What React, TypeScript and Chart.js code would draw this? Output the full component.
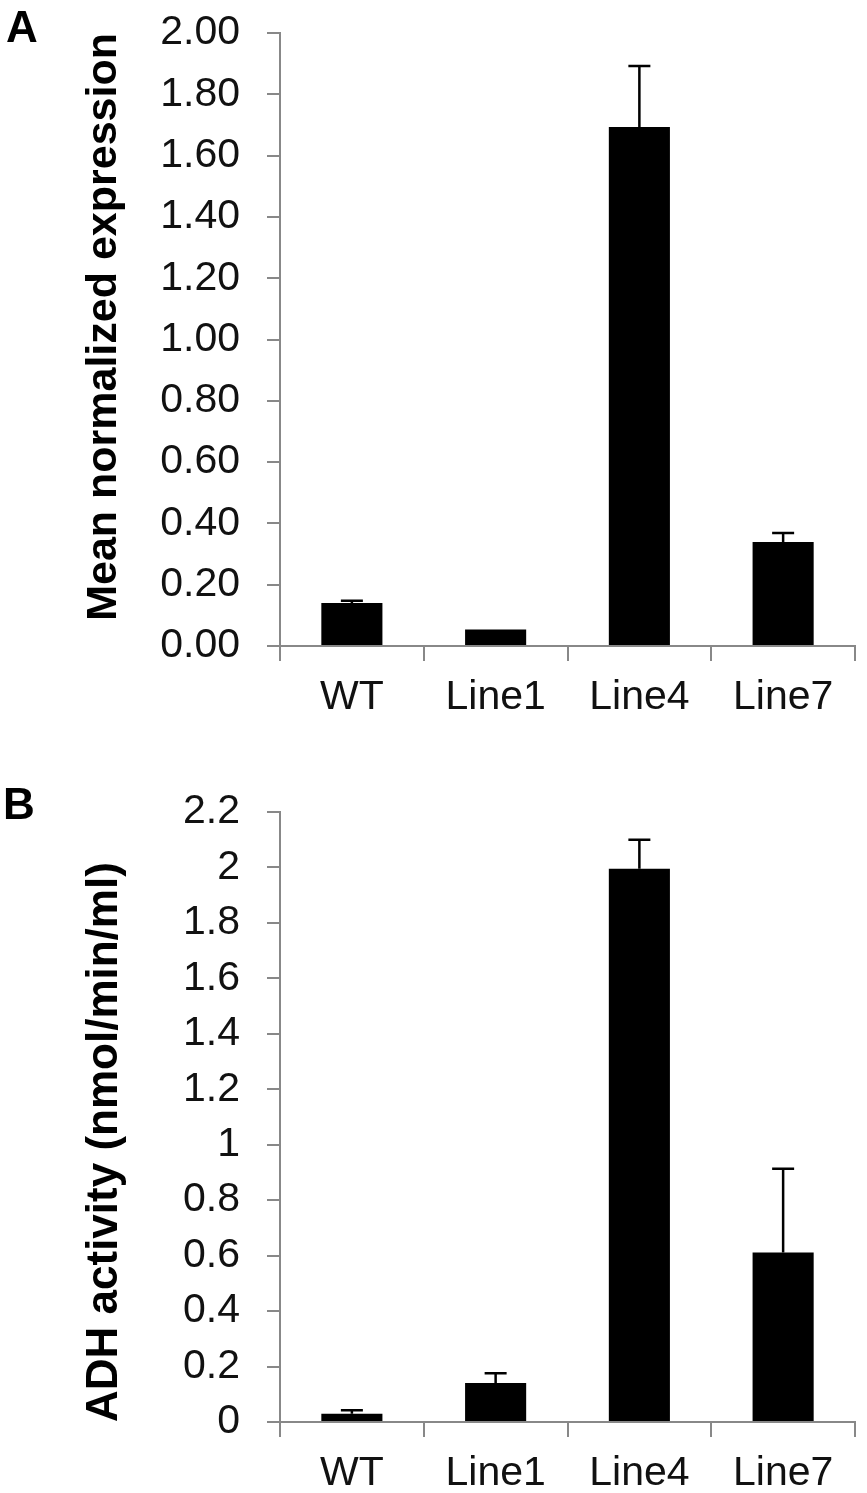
import React, { useEffect, useRef } from "react";
import { Chart, registerables } from "chart.js";

Chart.register(...registerables);

const categories = ["WT", "Line1", "Line4", "Line7"];

const expressionValues = [0.14, 0.054, 1.693, 0.339];
const expressionErrors = [0.008, 0, 0.199, 0.03];
const expressionTickLabels = ["0.00", "0.20", "0.40", "0.60", "0.80", "1.00", "1.20", "1.40", "1.60", "1.80", "2.00"];

const activityValues = [0.03, 0.141, 1.995, 0.611];
const activityErrors = [0.012, 0.035, 0.105, 0.302];
const activityTickLabels = ["0", "0.2", "0.4", "0.6", "0.8", "1", "1.2", "1.4", "1.6", "1.8", "2", "2.2"];

const FONT = "'Liberation Sans', Arial, sans-serif";

function makeErrorBarPlugin(values: number[], errors: number[]) {
  return {
    id: "errorBars",
    afterDatasetsDraw(chart: any) {
      const ctx = chart.ctx;
      const meta = chart.getDatasetMeta(0);
      const yScale = chart.scales.y;
      ctx.save();
      ctx.strokeStyle = "#000";
      ctx.lineWidth = 2.5;
      meta.data.forEach((bar: any, i: number) => {
        const e = errors[i];
        if (!e) return;
        const x = bar.x;
        const y0 = yScale.getPixelForValue(values[i]);
        const y1 = yScale.getPixelForValue(values[i] + e);
        ctx.beginPath();
        ctx.moveTo(x, y0);
        ctx.lineTo(x, y1);
        ctx.moveTo(x - 11, y1);
        ctx.lineTo(x + 11, y1);
        ctx.stroke();
      });
      ctx.restore();
    },
  };
}

interface PanelProps {
  values: number[];
  errors: number[];
  tickLabels: string[];
  max: number;
  title: string;
  titleSize: number;
  titleAlign: "start" | "center" | "end";
  width: number;
  height: number;
  padTop: number;
  padBottom: number;
  xHeight: number;
}

function Panel(props: PanelProps) {
  const ref = useRef<HTMLCanvasElement | null>(null);
  useEffect(() => {
    if (!ref.current) return;
    const { values, errors, tickLabels, max, title, titleSize, titleAlign, padTop, padBottom, xHeight } = props;
    const chart = new Chart(ref.current, {
      type: "bar",
      data: {
        labels: categories,
        datasets: [
          {
            data: values,
            backgroundColor: "#000",
            borderWidth: 0,
            barPercentage: 0.85,
            categoryPercentage: 0.5,
          },
        ],
      },
      options: {
        responsive: false,
        animation: false,
        events: [],
        layout: { padding: { left: 0, right: 12, top: padTop, bottom: padBottom } },
        plugins: {
          legend: { display: false },
          tooltip: { enabled: false },
        },
        scales: {
          x: {
            afterFit: (s: any) => {
              s.height = xHeight;
              s.paddingLeft = 0;
              s.paddingRight = 0;
            },
            grid: {
              display: true,
              drawOnChartArea: false,
              drawTicks: true,
              tickLength: 15,
              color: "#888",
              lineWidth: 2,
              offset: true,
            },
            border: { display: true, color: "#888", width: 2 },
            ticks: {
              color: "#111",
              padding: 12,
              font: { family: FONT, size: 41 },
              maxRotation: 0,
              autoSkip: false,
            },
          },
          y: {
            min: 0,
            max: max,
            afterFit: (s: any) => {
              s.width = 280;
              s.paddingTop = 0;
              s.paddingBottom = 0;
            },
            grid: {
              display: true,
              drawOnChartArea: false,
              drawTicks: true,
              tickLength: 13,
              color: "#888",
              lineWidth: 2,
            },
            border: { display: true, color: "#888", width: 2 },
            ticks: {
              stepSize: 0.2,
              color: "#111",
              padding: 27,
              font: { family: FONT, size: 41 },
              callback: (_v: any, i: number) => tickLabels[i],
            },
            title: {
              display: true,
              text: title,
              color: "#000",
              align: titleAlign,
              font: { family: FONT, size: titleSize, weight: "bold" },
              padding: { top: 78, bottom: 0 },
            },
          },
        },
      },
      plugins: [makeErrorBarPlugin(values, errors)],
    });
    return () => chart.destroy();
  }, []);
  return <canvas ref={ref} width={props.width} height={props.height} style={{ display: "block" }} />;
}

const letterStyle: React.CSSProperties = {
  position: "absolute",
  fontFamily: FONT,
  fontWeight: "bold",
  fontSize: 44,
  lineHeight: "44px",
  color: "#000",
};

export default function App() {
  return (
    <div style={{ position: "absolute", left: 0, top: 0, width: 867, height: 1493, background: "#fff", overflow: "hidden" }}>
      <div style={{ position: "absolute", left: 0, top: 0 }}>
        <Panel
          values={expressionValues}
          errors={expressionErrors}
          tickLabels={expressionTickLabels}
          max={2}
          title="Mean normalized expression"
          titleSize={43}
          titleAlign="end"
          width={867}
          height={760}
          padTop={33}
          padBottom={14}
          xHeight={100}
        />
      </div>
      <div style={{ position: "absolute", left: 0, top: 780 }}>
        <Panel
          values={activityValues}
          errors={activityErrors}
          tickLabels={activityTickLabels}
          max={2.2}
          title="ADH activity (nmol/min/ml)"
          titleSize={44}
          titleAlign="start"
          width={867}
          height={740}
          padTop={32}
          padBottom={11}
          xHeight={87}
        />
      </div>
      <div style={{ ...letterStyle, left: 6, top: 5 }}>A</div>
      <div style={{ ...letterStyle, left: 3, top: 782 }}>B</div>
    </div>
  );
}
